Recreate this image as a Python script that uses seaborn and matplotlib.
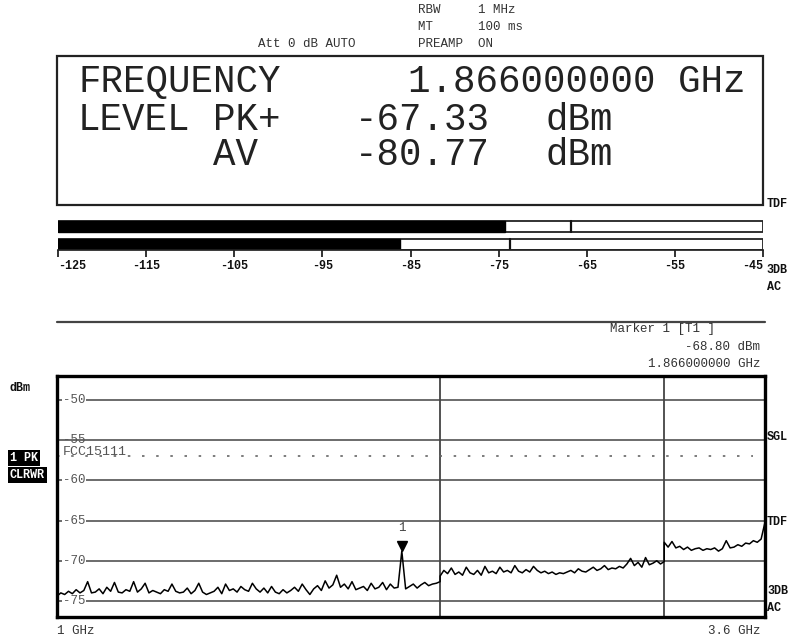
import numpy as np
import pandas as pd
import matplotlib
matplotlib.use("Agg")
import matplotlib.pyplot as plt
from matplotlib.patches import Rectangle
from matplotlib.transforms import offset_copy
import seaborn as sns

# --- readout values ---
freq_readout = "1.866000000 GHz"
level_pk = "-67.33"
level_av = "-80.77"
marker_freq = 1.866
marker_level = -68.80
limit_level = -56.9
limit_name = "FCC15111"

# level meter: bar fill value and hold mark (dBm)
meter_fill = [-74.3, -86.2]
meter_mark = [-66.8, -73.7]
meter_ticks = [-125, -115, -105, -95, -85, -75, -65, -55, -45]

# --- sweep trace (GHz / dBm), three sub-bands ---
freq_a = np.geomspace(1.0, 2.0, 101)
level_a = [
    -74.4, -74.0, -74.2, -73.8, -74.1, -73.6, -74.0, -73.7, -72.6, -74.0,
    -73.9, -73.5, -74.1, -73.3, -73.8, -72.7, -73.9, -74.0, -73.6, -73.8,
    -72.6, -73.9, -73.5, -72.8, -74.0, -73.7, -73.9, -74.1, -73.6, -73.8,
    -72.9, -73.8, -74.0, -73.9, -73.4, -74.1, -73.7, -72.8, -73.9, -74.2,
    -74.0, -73.8, -73.3, -74.1, -72.9, -73.7, -73.5, -73.9, -73.2, -73.6,
    -73.8, -72.8, -73.5, -73.9, -73.4, -74.0, -73.2, -73.9, -74.1, -73.6,
    -74.0, -73.7, -73.3, -73.8, -72.9, -73.6, -74.2, -73.5, -73.1, -73.7,
    -72.5, -73.4, -73.0, -71.8, -73.3, -72.9, -73.5, -72.6, -73.6, -73.4,
    -73.2, -73.7, -72.8, -73.5, -73.3, -72.7, -73.6, -72.9, -73.4, -73.3,
    -68.8,
    -73.5, -73.2, -72.9, -73.4, -73.0, -72.7, -73.1, -72.9, -72.8, -72.6,
]
freq_b = np.geomspace(2.0, 3.0, 61)
level_b = [
    -71.9, -71.2, -71.6, -70.9, -71.7, -71.4, -71.8, -70.8, -71.5, -71.7,
    -71.2, -71.8, -70.7, -71.5, -71.3, -71.6, -70.8, -71.4, -71.2, -71.5,
    -70.6, -71.3, -71.5, -71.1, -71.4, -70.7, -71.2, -71.5, -71.3, -71.6,
    -71.4, -71.7, -71.5, -71.6, -71.4, -71.2, -71.5, -71.0, -71.3, -71.4,
    -71.1, -70.8, -71.2, -71.0, -70.6, -71.1, -70.9, -71.0, -70.7, -70.9,
    -70.4, -69.7, -70.6, -70.2, -70.8, -69.6, -70.5, -70.3, -70.0, -70.4,
    -70.1,
]
freq_c = np.geomspace(3.0, 3.6, 27)
level_c = [
    -67.7, -68.3, -67.6, -68.4, -68.2, -68.6, -68.3, -68.7, -68.5, -68.4,
    -68.7, -68.5, -68.6, -68.4, -68.8, -68.5, -67.5, -68.4, -68.3, -68.0,
    -68.2, -67.8, -67.9, -67.5, -67.7, -67.3, -65.2,
]
grid_levels = [-50, -55, -60, -65, -70, -75]

trace = pd.DataFrame({
    "freq": np.concatenate([freq_a, freq_b, freq_c]),
    "level": level_a + level_b + level_c,
})

sns.set_theme(style="white")
plt.rcParams["font.family"] = ["Liberation Mono", "DejaVu Sans Mono"]

W, H = 791, 636
fig = plt.figure(figsize=(W / 100, H / 100), dpi=100)
fig.patch.set_facecolor("white")

def px_axes(x0, y0, x1, y1):
    return fig.add_axes([x0 / W, 1 - y1 / H, (x1 - x0) / W, (y1 - y0) / H])

# overlay in pixel coordinates for the screen texts
ov = fig.add_axes([0, 0, 1, 1])
ov.set_xlim(0, W)
ov.set_ylim(H, 0)
ov.axis("off")

small = dict(fontsize=9, color="#333333", va="center")
ov.text(418, 10, "RBW     1 MHz", **small)
ov.text(418, 27, "MT      100 ms", **small)
ov.text(418, 44, "PREAMP  ON", **small)
ov.text(258, 44, "Att 0 dB AUTO", **small)

ov.add_patch(Rectangle((57, 56), 706, 149, fill=False, lw=1.6, ec="#222222"))
big = dict(fontsize=27, color="#222222", va="center")
ov.text(78, 82, "FREQUENCY", **big)
ov.text(408, 82, freq_readout, **big)
ov.text(78, 120, "LEVEL", **big)
ov.text(213, 120, "PK+", **big)
ov.text(355, 120, level_pk, **big)
ov.text(545, 120, "dBm", **big)
ov.text(213, 155, "AV", **big)
ov.text(355, 155, level_av, **big)
ov.text(545, 155, "dBm", **big)

bold = dict(fontsize=8.5, fontweight="bold", color="#111111", va="center")
ov.text(767, 204, "TDF", **bold)
ov.text(766, 270, "3DB", **bold)
ov.text(767, 287, "AC", **bold)

ov.plot([57, 765], [322, 322], color="#444444", lw=1.6)
ov.text(715, 329, "Marker 1 [T1 ]", ha="right", **small)
ov.text(760, 347, "-68.80 dBm", ha="right", **small)
ov.text(760, 364, "1.866000000 GHz", ha="right", **small)

ov.text(10, 388, "dBm", **bold)
ov.text(10, 458, "1 PK", color="white", fontsize=8.5, fontweight="bold", va="center",
        bbox=dict(facecolor="black", edgecolor="none", pad=1.5))
ov.text(10, 475, "CLRWR", color="white", fontsize=8.5, fontweight="bold", va="center",
        bbox=dict(facecolor="black", edgecolor="none", pad=1.5))
ov.text(767, 437, "SGL", **bold)
ov.text(767, 522, "TDF", **bold)
ov.text(767, 591, "3DB", **bold)
ov.text(767, 608, "AC", **bold)
ov.text(57, 631, "1 GHz", **small)
ov.text(760, 631, "3.6 GHz", ha="right", **small)

# level meter
mt = px_axes(58, 218, 763, 250)
mt.set_xlim(meter_ticks[0], meter_ticks[-1])
mt.set_ylim(250, 218)
for yc, fill, mark in zip([226.5, 244.5], meter_fill, meter_mark):
    mt.barh(yc, meter_ticks[-1] - meter_ticks[0], left=meter_ticks[0], height=11,
            color="white", edgecolor="#222222", lw=1.3)
    mt.barh(yc, fill - meter_ticks[0], left=meter_ticks[0], height=11,
            color="black", edgecolor="black", lw=1.0)
    mt.plot([mark, mark], [yc - 5.5, yc + 5.5], color="#111111", lw=1.6)
for s in ["top", "left", "right"]:
    mt.spines[s].set_visible(False)
mt.spines["bottom"].set_color("#222222")
mt.set_yticks([])
mt.set_xticks(meter_ticks)
mt.set_xticklabels([str(t) for t in meter_ticks], fontsize=8.5, fontweight="bold")
mt.tick_params(axis="x", direction="out", length=5, width=1.2, pad=2, colors="#111111",
               bottom=True)
labels = mt.get_xticklabels()
labels[0].set_ha("left")
labels[-1].set_ha("right")
mt.set_facecolor("none")

# spectrum plot
ax = px_axes(57, 376, 765, 617)
ax.set_xscale("log")
for v in grid_levels:
    ax.axhline(v, color="#444444", lw=1.1, zorder=1)
for f in [2.0, 3.0]:
    ax.axvline(f, color="#444444", lw=1.3, zorder=1)
ax.plot([1.0, 3.52], [limit_level, limit_level], color="#666666", lw=1.2,
        ls=(0, (1.5, 7)), zorder=1)

sns.lineplot(data=trace, x="freq", y="level", estimator=None, sort=False,
             color="black", lw=1.1, ax=ax, zorder=3)
ax.plot([marker_freq], [marker_level], marker="v", ms=7, color="black", ls="none",
        transform=offset_copy(ax.transData, fig=fig, y=3.5, units="points"), zorder=4)
ax.annotate("1", (marker_freq, marker_level), xytext=(0, 17), textcoords="offset points",
            ha="center", va="center", fontsize=9, color="#444444")

ax.set_xlim(1.0, 3.6)
ax.set_ylim(-77, -47)
ytr = ax.get_yaxis_transform()
for v in grid_levels:
    kw = dict(transform=ytr, fontsize=9, color="#555555", va="center", ha="left", zorder=2)
    if v != -55:
        kw["bbox"] = dict(facecolor="white", edgecolor="none", pad=0.8)
    ax.text(0.008, v, f"{v}", **kw)
ax.text(0.008, -56.5, limit_name, transform=ytr, fontsize=9.5, color="#555555",
        va="center", ha="left", zorder=2)

ax.set_xticks([])
ax.set_yticks([])
ax.minorticks_off()
ax.tick_params(which="both", length=0)
ax.set_xlabel("")
ax.set_ylabel("")
for s in ax.spines.values():
    s.set_visible(True)
    s.set_color("black")
    s.set_linewidth(2.4)

fig.savefig("out.png", dpi=100, facecolor="white")
